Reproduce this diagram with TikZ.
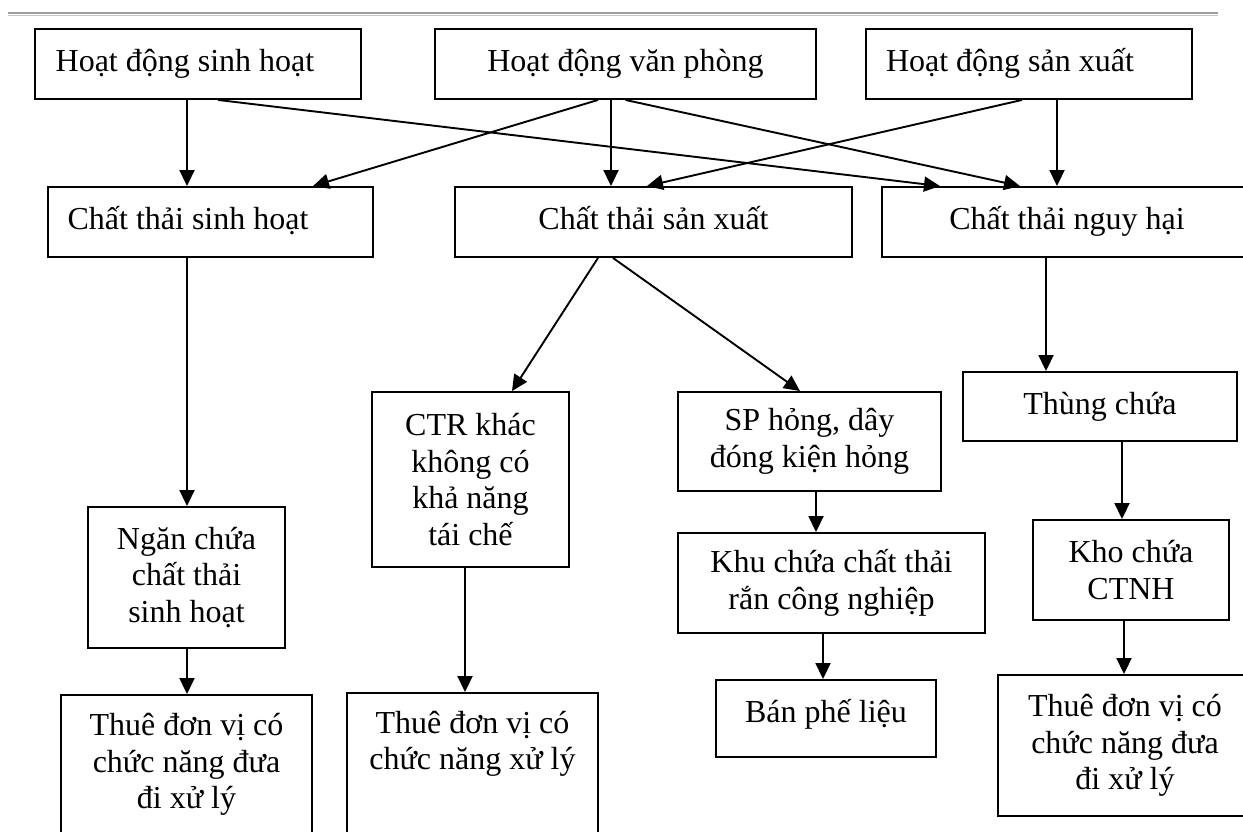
\documentclass[tikz,border=0pt]{standalone}
\usepackage{fontspec}
\setmainfont{Liberation Serif}
\usetikzlibrary{arrows.meta}

\tikzset{
  box/.style={draw, line width=1.9pt, rectangle, inner sep=0pt, align=center,
    font=\fontsize{32}{36.5}\selectfont},
  oneline/.style={text height=22pt, text depth=7pt},
  flow/.style={line width=1.9pt, -{Triangle[length=16pt,width=15pt]}},
}

\begin{document}
\begin{tikzpicture}[x=1pt, y=-1pt]
\useasboundingbox (0,0) rectangle (1243,832);
\clip (0,0) rectangle (1243,832);

% page header rule
\draw[line width=2.4pt, gray!75] (8,13) -- (1218,13);
\draw[line width=1.4pt, gray!45] (8,15.8) -- (1218,15.8);

% sources
\node[box, oneline, minimum width=326pt, minimum height=70pt]
  (b1) at (198,64) {Hoạt động sinh hoạt\hspace*{26pt}};
\node[box, oneline, minimum width=381pt, minimum height=70pt]
  (b2) at (625.5,64) {Hoạt động văn phòng};
\node[box, oneline, minimum width=326pt, minimum height=70pt]
  (b3) at (1029,64) {Hoạt động sản xuất\hspace*{38pt}};

% waste types
\node[box, oneline, minimum width=325pt, minimum height=70pt]
  (c1) at (210.5,222) {Chất thải sinh hoạt\hspace*{45pt}};
\node[box, oneline, minimum width=397pt, minimum height=70pt]
  (c2) at (653.5,222) {Chất thải sản xuất};
\node[box, oneline, minimum width=370pt, minimum height=70pt]
  (c3) at (1067,222) {Chất thải nguy hại};

% intermediate storage
\node[box, minimum width=197pt, minimum height=175pt]
  (ctr) at (470.5,479.5) {CTR khác\\không có\\khả năng\\tái chế};
\node[box, minimum width=263pt, minimum height=99pt]
  (sp) at (809.5,441.5) {SP hỏng, dây\\đóng kiện hỏng};
\node[box, oneline, minimum width=274pt, minimum height=69pt]
  (thung) at (1100,406.5) {Thùng chứa};
\node[box, minimum width=197pt, minimum height=141pt]
  (ngan) at (186.5,577.5) {Ngăn chứa\\chất thải\\sinh hoạt};
\node[box, minimum width=307pt, minimum height=100pt]
  (khu) at (831.5,583) {Khu chứa chất thải\\rắn công nghiệp};
\node[box, minimum width=196pt, minimum height=100pt]
  (kho) at (1131,570) {Kho chứa\\CTNH};

% final handling
\node[box, minimum width=251pt, minimum height=139pt]
  (t1) at (186.5,764.5) {Thuê đơn vị có\\chức năng đưa\\đi xử lý};
\node[box, minimum width=251pt, minimum height=167pt]
  (t2) at (472.5,776.5) {Thuê đơn vị có\\chức năng xử lý\\[36pt]\mbox{}};
\node[box, text height=20pt, text depth=13pt, minimum width=220pt, minimum height=77pt]
  (ban) at (826,718.5) {Bán phế liệu};
\node[box, minimum width=254pt, minimum height=141pt]
  (t3) at (1125,745.5) {Thuê đơn vị có\\chức năng đưa\\đi xử lý};

% flows from sources
\draw[flow] ([xshift=-11pt]b1.south) -- ([xshift=-23.5pt]c1.north);
\draw[flow] ([xshift=20pt]b1.south) -- ([xshift=-127pt]c3.north);
\draw[flow] ([xshift=-27.5pt]b2.south) -- ([xshift=102.5pt]c1.north);
\draw[flow] ([xshift=-14.5pt]b2.south) -- ([xshift=-42.5pt]c2.north);
\draw[flow] (b2.south) -- ([xshift=-47pt]c3.north);
\draw[flow] ([xshift=-7pt]b3.south) -- ([xshift=-6.5pt]c2.north);
\draw[flow] ([xshift=28pt]b3.south) -- ([xshift=-10pt]c3.north);

% domestic waste
\draw[flow] ([xshift=-23.5pt]c1.south) -- ([xshift=0.5pt]ngan.north);
\draw[flow] ([xshift=0.5pt]ngan.south) -- ([xshift=0.5pt]t1.north);

% production waste
\draw[flow] ([xshift=-55.5pt]c2.south) -- ([xshift=41.5pt]ctr.north);
\draw[flow] ([xshift=-40.5pt]c2.south) -- ([xshift=-9.5pt]sp.north);
\draw[flow] ([xshift=-5.5pt]ctr.south) -- ([xshift=-7.5pt]t2.north);
\draw[flow] ([xshift=6.5pt]sp.south) -- ([xshift=-15.5pt]khu.north);
\draw[flow] ([xshift=-8.5pt]khu.south) -- ([xshift=-3pt]ban.north);

% hazardous waste
\draw[flow] ([xshift=-21pt]c3.south) -- ([xshift=-54pt]thung.north);
\draw[flow] ([xshift=22pt]thung.south) -- ([xshift=-9pt]kho.north);
\draw[flow] ([xshift=-7pt]kho.south) -- ([xshift=-1pt]t3.north);
\end{tikzpicture}
\end{document}
